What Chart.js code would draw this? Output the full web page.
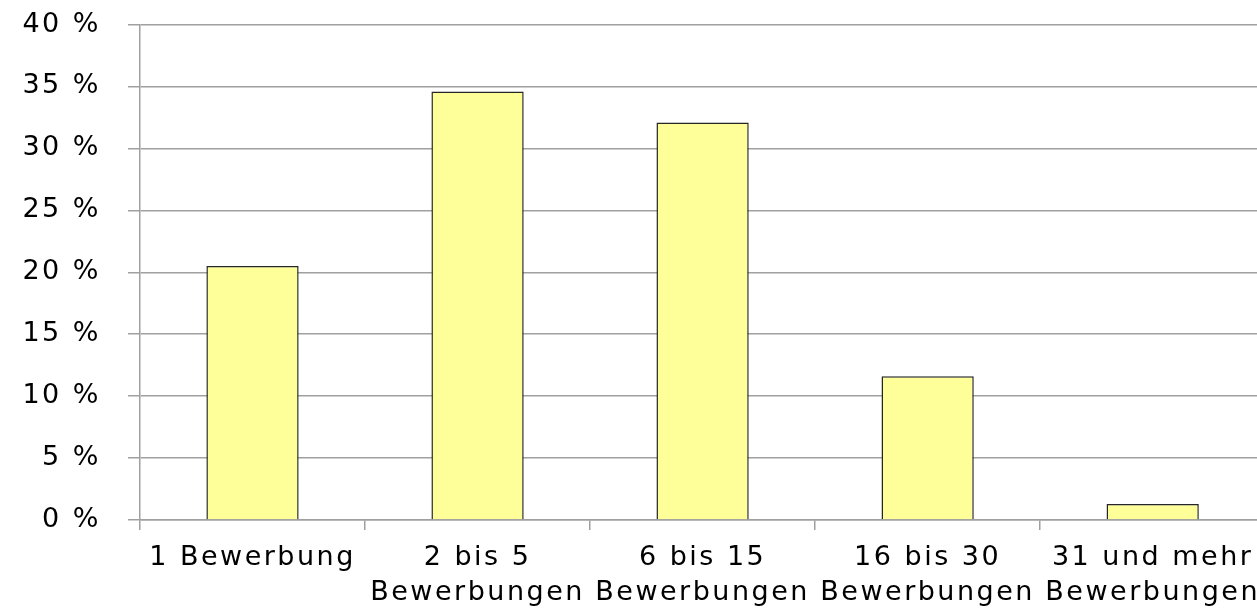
<!DOCTYPE html>
<html>
<head>
<meta charset="utf-8">
<script src="https://cdn.jsdelivr.net/npm/chart.js@4"></script>
<style>
  html, body { margin: 0; padding: 0; background: #fff; overflow: hidden; }
  #box { width: 1270px; height: 629px; margin-top: -20px; }
</style>
</head>
<body>
<div id="box"><canvas id="grafico"></canvas></div>
<script>
const kategorien = [
  '1 Bewerbung',
  ['2 bis 5', 'Bewerbungen'],
  ['6 bis 15', 'Bewerbungen'],
  ['16 bis 30', 'Bewerbungen'],
  ['31 und mehr', 'Bewerbungen']
];
const anteile = [20.5, 34.6, 32.1, 11.6, 1.3];
const yTicks = [0, 5, 10, 15, 20, 25, 30, 35, 40];

const schrift = { family: '"DejaVu Sans", sans-serif', size: 27, lineHeight: 1.3 };

// etwas Zeichenabstand wie im Original
const abstand = {
  id: 'abstand',
  beforeLayout(chart) { chart.ctx.letterSpacing = '2.5px'; },
  beforeDraw(chart) { chart.ctx.letterSpacing = '2.5px'; }
};

new Chart(document.getElementById('grafico').getContext('2d'), {
  type: 'bar',
  data: {
    labels: kategorien,
    datasets: [{
      data: anteile,
      backgroundColor: '#ffff99',
      borderColor: '#262626',
      borderWidth: 1.5,
      barPercentage: 0.41,
      categoryPercentage: 1
    }]
  },
  plugins: [abstand],
  options: {
    responsive: true,
    maintainAspectRatio: false,
    animation: false,
    layout: { padding: 0 },
    plugins: { legend: { display: false }, tooltip: { enabled: false } },
    scales: {
      x: {
        grid: { drawOnChartArea: false, offset: true, tickLength: 10, color: '#a0a0a0', lineWidth: 1.5 },
        border: { color: '#a0a0a0', width: 1.5 },
        ticks: { color: '#000', font: schrift, padding: 10, maxRotation: 0, autoSkip: false },
        afterFit: s => { s.height = 89; }
      },
      y: {
        min: 0,
        max: 40,
        afterBuildTicks: s => { s.ticks = yTicks.map(v => ({ value: v })); },
        grid: { color: '#a0a0a0', lineWidth: 1.5, tickLength: 12 },
        border: { color: '#a0a0a0', width: 1.5 },
        ticks: { color: '#000', font: schrift, padding: 27, callback: v => v + ' %' },
        afterFit: s => { s.width = 140; }
      }
    }
  }
});
</script>
</body>
</html>
